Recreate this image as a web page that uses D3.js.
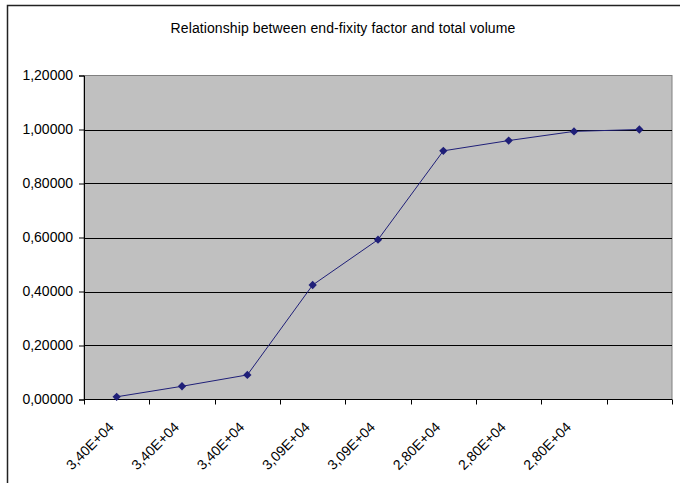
<!DOCTYPE html>
<html>
<head>
<meta charset="utf-8">
<script src="https://cdn.jsdelivr.net/npm/d3@7"></script>
<style>
  html, body { margin: 0; padding: 0; background: #fff; }
  svg { display: block; font-family: "Liberation Sans", Arial, sans-serif; }
</style>
</head>
<body>
<svg id="chart" width="680" height="483"></svg>
<script>
// End-fixity factor per design case (total volume on the category axis)
const categories = ["3,40E+04", "3,40E+04", "3,40E+04", "3,09E+04", "3,09E+04",
                    "2,80E+04", "2,80E+04", "2,80E+04", ""];
const values = [0.010, 0.049, 0.091, 0.424, 0.592, 0.921, 0.959, 0.993, 1.000];
const yTicks = [0, 0.2, 0.4, 0.6, 0.8, 1.0, 1.2];
const title = "Relationship between end-fixity factor and total volume";

const FONT = 14;
const svg = d3.select("#chart");
const plot = { left: 84, top: 75.5, right: 672, bottom: 399.5 };

// chart frame
svg.append("rect")
  .attr("x", 7.5).attr("y", 5.5)
  .attr("width", 690).attr("height", 500)
  .attr("fill", "#fff")
  .attr("stroke", "#222").attr("stroke-width", 1.5);

svg.append("text")
  .attr("x", 343).attr("y", 33)
  .attr("text-anchor", "middle")
  .attr("font-size", FONT)
  .attr("letter-spacing", 0.1)
  .attr("fill", "#000")
  .text(title);

const x = d3.scaleBand()
  .domain(d3.range(categories.length))
  .range([plot.left, plot.right])
  .paddingInner(0).paddingOuter(0);

const y = d3.scaleLinear()
  .domain([0, 1.2])
  .range([plot.bottom, plot.top]);

// plot area
svg.append("rect")
  .attr("x", plot.left).attr("y", plot.top)
  .attr("width", plot.right - plot.left)
  .attr("height", plot.bottom - plot.top)
  .attr("fill", "#c0c0c0")
  .attr("stroke", "#808080").attr("stroke-width", 1);

// horizontal gridlines
svg.append("g")
  .selectAll("line")
  .data(yTicks.filter(d => d > 0 && d < 1.2))
  .join("line")
  .attr("x1", plot.left).attr("x2", plot.right)
  .attr("y1", d => Math.round(y(d)) + 0.5)
  .attr("y2", d => Math.round(y(d)) + 0.5)
  .attr("stroke", "#000").attr("stroke-width", 1);

// value axis
const fmt = d => d.toFixed(5).replace(".", ",");
const yAxis = svg.append("g")
  .attr("transform", `translate(${plot.left},0)`)
  .call(d3.axisLeft(y).tickValues(yTicks).tickFormat(fmt).tickSize(5).tickPadding(6));
yAxis.select(".domain").attr("stroke", "#000");
yAxis.selectAll(".tick line").attr("stroke", "#000");
yAxis.selectAll(".tick text")
  .attr("font-size", FONT)
  .attr("font-family", "Liberation Sans, Arial, sans-serif")
  .attr("fill", "#000");

// category axis: ticks on category boundaries
const boundaries = d3.range(categories.length + 1).map(i =>
  i < categories.length ? x(i) : x(categories.length - 1) + x.bandwidth());
const xAxisG = svg.append("g");
xAxisG.append("line")
  .attr("x1", plot.left).attr("x2", plot.right)
  .attr("y1", plot.bottom).attr("y2", plot.bottom)
  .attr("stroke", "#000");
xAxisG.selectAll("line.tick")
  .data(boundaries)
  .join("line")
  .attr("class", "tick")
  .attr("x1", d => Math.round(d) + 0.5).attr("x2", d => Math.round(d) + 0.5)
  .attr("y1", plot.bottom).attr("y2", plot.bottom + 5)
  .attr("stroke", "#000");
xAxisG.selectAll("text")
  .data(categories)
  .join("text")
  .attr("transform", (d, i) => `translate(${x(i) + x.bandwidth() / 2 - 2},428) rotate(-45)`)
  .attr("text-anchor", "end")
  .attr("font-size", FONT)
  .attr("fill", "#000")
  .text(d => d);

// series line and markers
const line = d3.line()
  .x((d, i) => x(i) + x.bandwidth() / 2)
  .y(d => y(d));
svg.append("path")
  .datum(values)
  .attr("d", line)
  .attr("fill", "none")
  .attr("stroke", "#1f1f78")
  .attr("stroke-width", 1);

const diamond = d3.symbol().type(d3.symbolDiamond2).size(44);
svg.append("g")
  .selectAll("path")
  .data(values)
  .join("path")
  .attr("d", diamond)
  .attr("transform", (d, i) => `translate(${x(i) + x.bandwidth() / 2},${y(d)})`)
  .attr("fill", "#1f1f78");
</script>
</body>
</html>
